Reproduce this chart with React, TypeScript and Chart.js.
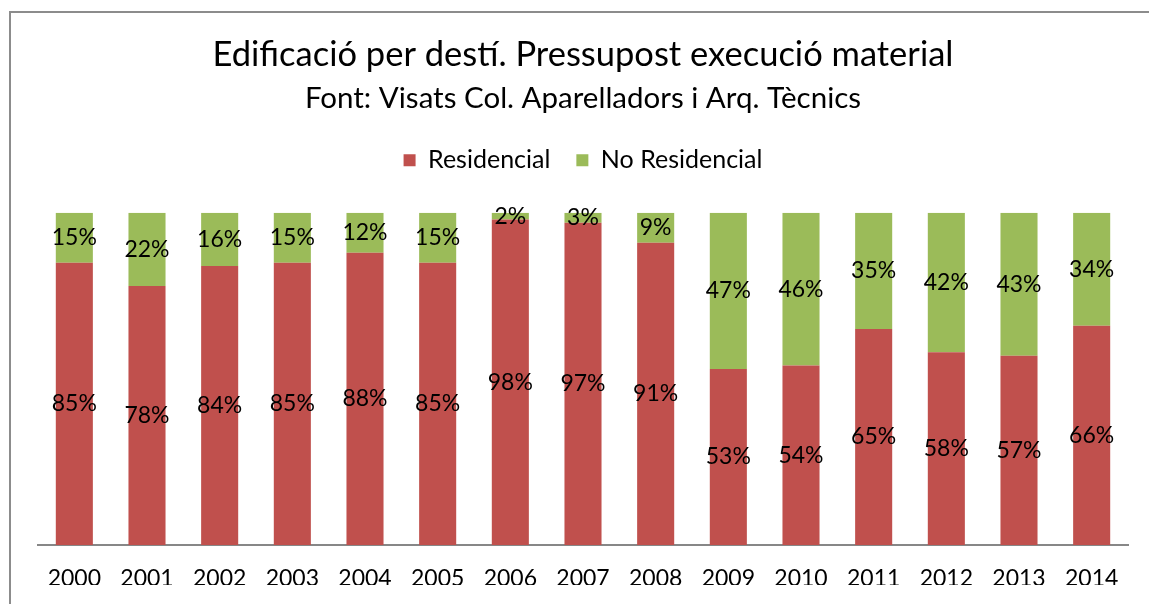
import React, { useEffect, useRef } from "react";
import { Chart, registerables } from "chart.js";

Chart.register(...registerables);

const years = ["2000", "2001", "2002", "2003", "2004", "2005", "2006", "2007", "2008", "2009", "2010", "2011", "2012", "2013", "2014"];
const residencial = [85, 78, 84, 85, 88, 85, 98, 97, 91, 53, 54, 65, 58, 57, 66];
const noResidencial = [15, 22, 16, 15, 12, 15, 2, 3, 9, 47, 46, 35, 42, 43, 34];

const FONT = "Lato";

const segLabels = {
  id: "segLabels",
  afterDatasetsDraw(chart: any) {
    const ctx = chart.ctx;
    ctx.save();
    ctx.font = `23px ${FONT}`;
    ctx.fillStyle = "#000";
    ctx.textAlign = "center";
    ctx.textBaseline = "middle";
    chart.data.datasets.forEach((ds: any, i: number) => {
      const meta = chart.getDatasetMeta(i);
      meta.data.forEach((bar: any, j: number) => {
        const { x, y, base } = bar.getProps(["x", "y", "base"], true);
        ctx.fillText(ds.data[j] + "%", x, (y + base) / 2);
      });
    });
    ctx.restore();
  },
};

const legendSpacer = {
  id: "legendSpacer",
  beforeInit(chart: any) {
    const legend = chart.legend;
    if (!legend) return;
    const orig = legend.fit;
    legend.fit = function () {
      orig.call(this);
      this.height += 30;
    };
  },
};

export default function App() {
  const ref = useRef<HTMLCanvasElement>(null);
  useEffect(() => {
    if (!ref.current) return;
    const chart = new Chart(ref.current, {
      type: "bar",
      data: {
        labels: years,
        datasets: [
          { label: "Residencial", data: residencial, backgroundColor: "#C0504D", barPercentage: 0.51, categoryPercentage: 1 },
          { label: "No Residencial", data: noResidencial, backgroundColor: "#9BBB59", barPercentage: 0.51, categoryPercentage: 1 },
        ],
      },
      options: {
        animation: false,
        responsive: false,
        devicePixelRatio: 1,
        layout: { padding: { left: 38, right: 21, bottom: 19, top: 0 } },
        scales: {
          x: {
            stacked: true,
            grid: { display: false, drawTicks: false },
            border: { display: true, color: "#878787", width: 2 },
            ticks: { color: "#000", font: { family: FONT, size: 23 }, padding: 20, maxRotation: 0 },
            afterFit(scale: any) {
              scale.height = 40;
            },
          },
          y: { stacked: true, display: false, min: 0, max: 100 },
        },
        plugins: {
          title: {
            display: true,
            text: "Edificació per destí. Pressupost execució material",
            color: "#000",
            font: { family: FONT, size: 34.5, weight: "normal" },
            padding: { top: 34, bottom: 5 },
          },
          subtitle: {
            display: true,
            text: "Font: Visats Col. Aparelladors i Arq. Tècnics",
            color: "#000",
            font: { family: FONT, size: 29.5, weight: "normal" },
            padding: { top: 0, bottom: 6 },
          },
          legend: {
            display: true,
            position: "top",
            labels: { boxWidth: 12, boxHeight: 12, color: "#000", font: { family: FONT, size: 25 }, padding: 26 },
          },
          tooltip: { enabled: false },
        },
      },
      plugins: [segLabels, legendSpacer],
    });
    return () => chart.destroy();
  }, []);
  return (
    <div>
      <div
        style={{
          position: "fixed",
          left: 9,
          top: 11,
          width: 1140,
          height: 593,
          boxSizing: "border-box",
          borderLeft: "2px solid #8c8c8c",
          borderTop: "2px solid #8c8c8c",
        }}
      />
      <canvas ref={ref} width={1149} height={604} style={{ position: "fixed", left: 0, top: 0, width: 1149, height: 604 }} />
    </div>
  );
}
